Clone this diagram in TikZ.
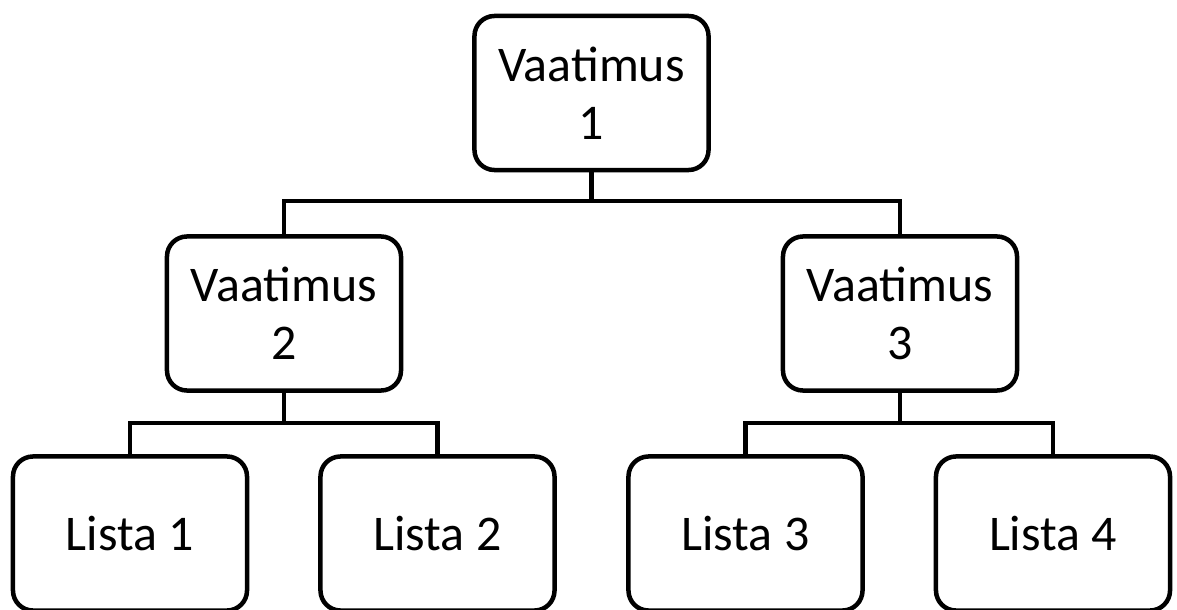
\documentclass[tikz,border=0pt]{standalone}
\usepackage{fontspec}
\setmainfont{Carlito}
\tikzset{
  box/.style={draw, line width=3.2pt, rounded corners=0.5cm, minimum width=5.85cm,
    minimum height=3.85cm, align=center, font=\fontsize{35.5}{41}\selectfont},
  link/.style={line width=3pt}
}
\begin{document}
\begin{tikzpicture}[x=0.025cm, y=-0.025cm]
\useasboundingbox (0,0) rectangle (1177,610);
\node[box] (vaa1) at (591.5,93){Vaatimus\\1};
\node[box] (vaa2) at (284,313.5){Vaatimus\\2};
\node[box] (vaa3) at (900,313.5){Vaatimus\\3};
\node[box] (lis1) at (130,533.5){Lista 1};
\node[box] (lis2) at (437.5,533.5){Lista 2};
\node[box] (lis3) at (745.5,533.5){Lista 3};
\node[box] (lis4) at (1053,533.5){Lista 4};
\draw[link](vaa1.south) -- ++(0,29) -| (vaa2.north);
\draw[link](vaa1.south) -- ++(0,29) -| (vaa3.north);
\draw[link](vaa2.south) -- ++(0,30) -| (lis1.north);
\draw[link](vaa2.south) -- ++(0,30) -| (lis2.north);
\draw[link](vaa3.south) -- ++(0,30) -| (lis3.north);
\draw[link](vaa3.south) -- ++(0,30) -| (lis4.north);
\end{tikzpicture}
\end{document}
